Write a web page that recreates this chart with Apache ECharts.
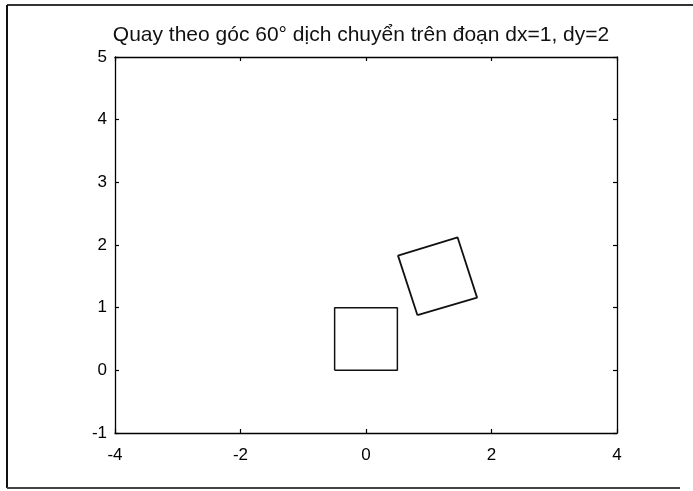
<!DOCTYPE html>
<html>
<head>
<meta charset="utf-8">
<script src="https://cdn.jsdelivr.net/npm/echarts@6/dist/echarts.min.js"></script>
<style>
  html, body { margin: 0; padding: 0; background: #ffffff; }
  #chart { width: 693px; height: 491px; }
</style>
</head>
<body>
<div id="chart"></div>
<script>
// Original unit square, centred on x = 0 (closed outline)
const squareX = [-0.5, 0.5, 0.5, -0.5, -0.5];
const squareY = [0, 0, 1, 1, 0];

// Square after rotation and shift (closed outline)
const movedX = [0.82, 1.77, 1.46, 0.51, 0.82];
const movedY = [0.88, 1.16, 2.12, 1.83, 0.88];

const xTicks = [-4, -2, 0, 2, 4];
const yTicks = [-1, 0, 1, 2, 3, 4, 5];

const titleText = 'Quay theo góc 60° dịch chuyển trên đoạn dx=1, dy=2';

const toPairs = (xs, ys) => xs.map((x, i) => [x, ys[i]]);

const chart = echarts.init(document.getElementById('chart'), null, { renderer: 'canvas' });

const fontFam = 'Liberation Sans, Arial, sans-serif';

const baseAxis = {
  type: 'value',
  axisLine: { show: true, onZero: false, lineStyle: { color: '#000', width: 1.3 } },
  axisTick: { show: true, inside: true, length: 4, lineStyle: { color: '#000', width: 1.2 } },
  splitLine: { show: false }
};

chart.setOption({
  animation: false,
  backgroundColor: '#ffffff',
  title: {
    text: titleText,
    left: 356,
    top: 20,
    textAlign: 'center',
    textStyle: { fontFamily: fontFam, fontSize: 21, fontWeight: 'normal', color: '#111' }
  },
  grid: { left: 115, right: 76, top: 57, bottom: 58 },
  xAxis: [
    Object.assign({}, baseAxis, {
      position: 'bottom',
      min: xTicks[0], max: xTicks[xTicks.length - 1], interval: 2,
      axisLabel: { color: '#000', fontFamily: fontFam, fontSize: 17, margin: 14 }
    }),
    Object.assign({}, baseAxis, {
      position: 'top',
      min: xTicks[0], max: xTicks[xTicks.length - 1], interval: 2,
      axisLabel: { show: false }
    })
  ],
  yAxis: [
    Object.assign({}, baseAxis, {
      position: 'left',
      min: yTicks[0], max: yTicks[yTicks.length - 1], interval: 1,
      axisLabel: { color: '#000', fontFamily: fontFam, fontSize: 17, margin: 8 }
    }),
    Object.assign({}, baseAxis, {
      position: 'right',
      min: yTicks[0], max: yTicks[yTicks.length - 1], interval: 1,
      axisLabel: { show: false }
    })
  ],
  series: [
    {
      type: 'line',
      data: toPairs(squareX, squareY),
      showSymbol: false,
      symbol: 'none',
      lineStyle: { color: '#111', width: 1.5 },
      silent: true
    },
    {
      type: 'line',
      data: toPairs(movedX, movedY),
      showSymbol: false,
      symbol: 'none',
      lineStyle: { color: '#111', width: 1.8 },
      silent: true
    }
  ],
  graphic: [
    // surrounding page frame: top, left and bottom edges
    { type: 'line', shape: { x1: 7, y1: 5, x2: 693, y2: 5 }, style: { stroke: '#333', lineWidth: 2 } },
    { type: 'line', shape: { x1: 7, y1: 5, x2: 7, y2: 488 }, style: { stroke: '#111', lineWidth: 2 } },
    { type: 'line', shape: { x1: 7, y1: 488, x2: 680, y2: 488 }, style: { stroke: '#444', lineWidth: 2 } }
  ]
});
</script>
</body>
</html>
